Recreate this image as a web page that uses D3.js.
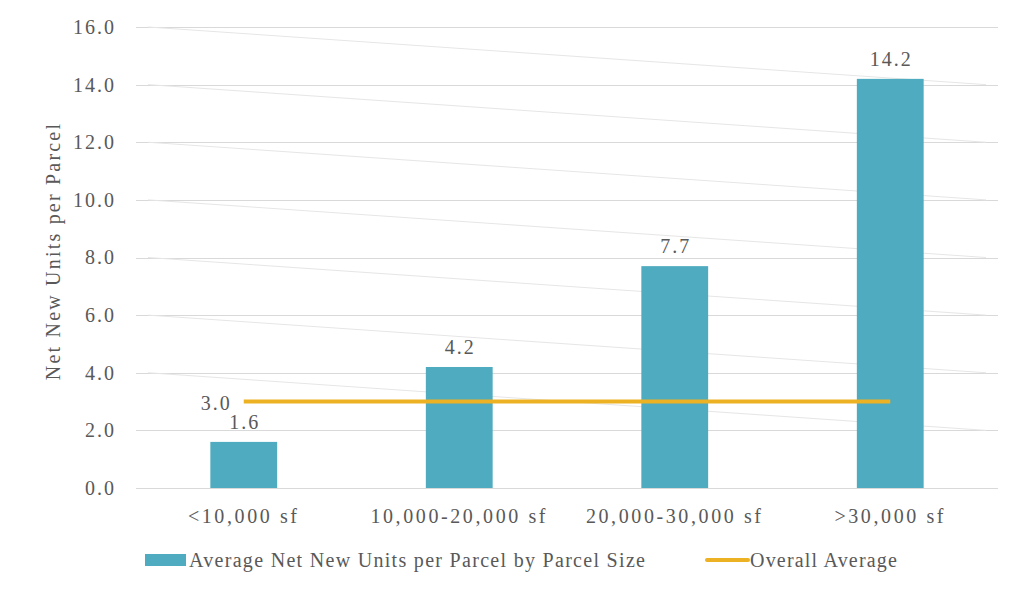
<!DOCTYPE html>
<html>
<head>
<meta charset="utf-8">
<style>
body { margin: 0; background: #fff; }
svg text { fill: #595959; }
.grid line { stroke: #d9d9d9; stroke-width: 1; }
.ghost { stroke: #e6e6e6; stroke-width: 1; fill: none; }
.bar { fill: #4fabbf; }
.avg { stroke: #edb124; stroke-width: 4; fill: none; }
</style>
</head>
<body>
<svg width="1010" height="590" style="font-family: 'DejaVu Serif', serif"></svg>
<script src="https://cdn.jsdelivr.net/npm/d3@7"></script>
<script>
// data
var categories = ["<10,000 sf", "10,000-20,000 sf", "20,000-30,000 sf", ">30,000 sf"];
var unitsPerParcel = [1.6, 4.2, 7.7, 14.2];
var overallAverage = 3.0;
var yTicks = [0, 2, 4, 6, 8, 10, 12, 14, 16];
var seriesNames = ["Average Net New Units per Parcel by Parcel Size", "Overall Average"];

var svg = d3.select("svg");
var plot = {left: 136, right: 998, top: 27, bottom: 488};
var FONT = "'Liberation Serif', 'Times New Roman', serif";

var x = d3.scaleBand().domain(categories).range([plot.left, plot.right]).paddingInner(0.69).paddingOuter(0.345);
var xc = function(d) { return x(d) + x.bandwidth() / 2; };
var y = d3.scaleLinear().domain([0, 16]).range([plot.bottom, plot.top]);

// gridlines
var grid = svg.append("g").attr("class", "grid");
grid.selectAll("line").data(yTicks).enter().append("line")
  .attr("x1", plot.left).attr("x2", plot.right)
  .attr("y1", function(d) { return Math.round(y(d)) + 0.5; })
  .attr("y2", function(d) { return Math.round(y(d)) + 0.5; });

// faint slanted ghost lines (scan artifact in the source)
svg.append("g").selectAll("line").data(yTicks.filter(function(d) { return d >= 4; })).enter().append("line")
  .attr("class", "ghost")
  .attr("x1", plot.left + 12).attr("x2", plot.right - 12)
  .attr("y1", function(d) { return y(d); })
  .attr("y2", function(d) { return y(d - 2); });

// y axis labels
var yAxis = d3.axisLeft(y).tickValues(yTicks).tickFormat(d3.format(".1f")).tickSize(0).tickPadding(0);
var ga = svg.append("g").attr("transform", "translate(116,0)").call(yAxis);
ga.select(".domain").remove();
ga.selectAll("text").attr("font-size", 20).attr("fill", "#595959").style("letter-spacing", "2px");

// bars
svg.selectAll("rect.bar").data(unitsPerParcel).enter().append("rect")
  .attr("class", "bar")
  .attr("x", function(d, i) { return x(categories[i]); })
  .attr("width", x.bandwidth())
  .attr("y", function(d) { return y(d); })
  .attr("height", function(d) { return y(0) - y(d); });

// bar value labels
svg.selectAll("text.val").data(unitsPerParcel).enter().append("text")
  .attr("class", "val")
  .attr("x", function(d, i) { return xc(categories[i]) + 1; })
  .attr("y", function(d) { return y(d) - 13; })
  .attr("text-anchor", "middle").attr("font-size", 20).style("letter-spacing", "2px")
  .text(function(d) { return d.toFixed(1); });

// overall average line
var avgLine = d3.line().x(function(d) { return xc(d); }).y(function() { return y(overallAverage); });
svg.append("path").attr("class", "avg").datum(categories).attr("d", avgLine);
svg.append("text")
  .attr("x", xc(categories[0]) - 12).attr("y", y(overallAverage) + 8)
  .attr("text-anchor", "end").attr("font-size", 20).style("letter-spacing", "2px")
  .text(overallAverage.toFixed(1));

// x labels
svg.selectAll("text.xl").data(categories).enter().append("text")
  .attr("class", "xl")
  .attr("x", function(d) { return xc(d); })
  .attr("y", 523)
  .attr("text-anchor", "middle").attr("font-size", 20).style("letter-spacing", "2.6px")
  .text(function(d) { return d; });

// y title
svg.append("text")
  .attr("transform", "translate(60,251) rotate(-90)")
  .attr("text-anchor", "middle").attr("font-size", 20).style("letter-spacing", "2.2px")
  .text("Net New Units per Parcel");

// legend
var lg = svg.append("g");
lg.append("rect").attr("x", 145).attr("y", 554).attr("width", 41).attr("height", 12).attr("fill", "#4fabbf");
lg.append("text").attr("x", 189).attr("y", 567).attr("font-size", 20).style("letter-spacing", "1.3px").text(seriesNames[0]);
lg.append("line").attr("x1", 707).attr("x2", 748).attr("y1", 560).attr("y2", 560)
  .attr("stroke", "#edb124").attr("stroke-width", 4).attr("stroke-linecap", "round");
lg.append("text").attr("x", 750).attr("y", 567).attr("font-size", 20).style("letter-spacing", "1.2px").text(seriesNames[1]);

svg.selectAll("text").style("font-family", FONT);
</script>
</body>
</html>
